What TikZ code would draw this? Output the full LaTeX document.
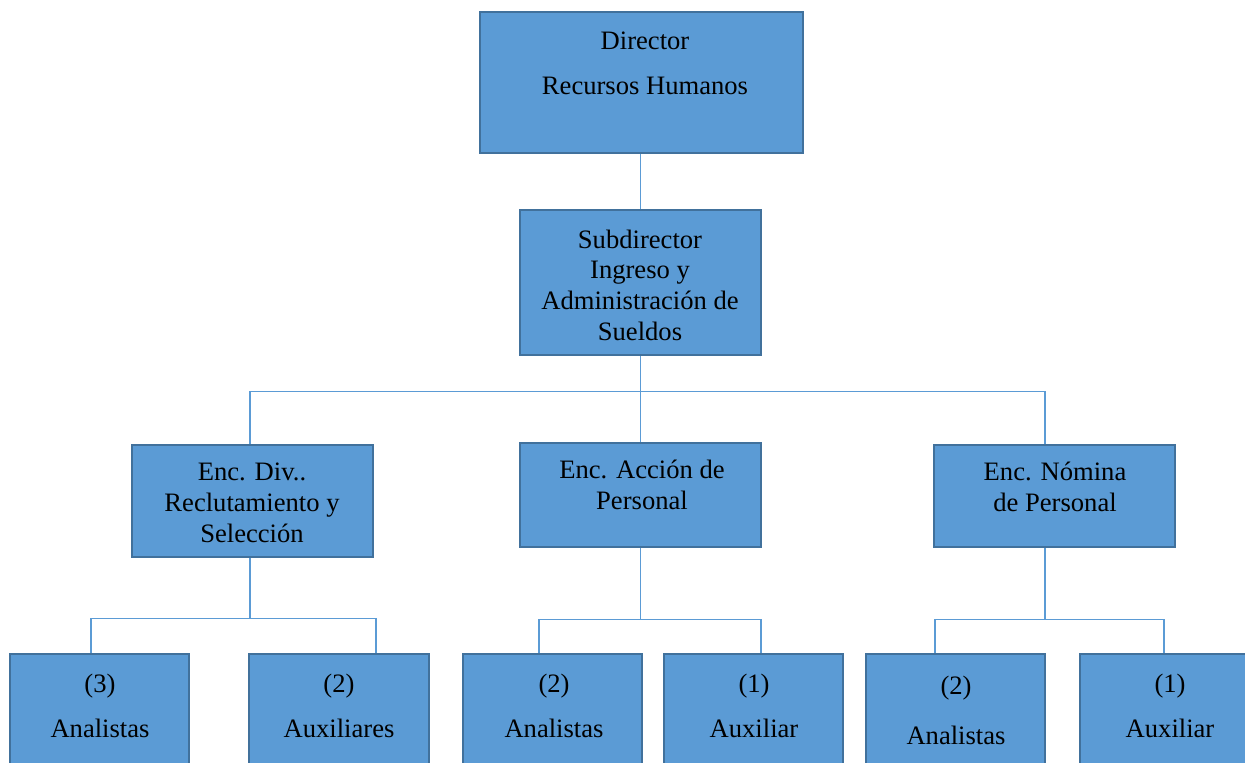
\documentclass[tikz,border=0pt]{standalone}
\usepackage{fontspec}
\setmainfont{Liberation Serif}
\usepackage{tikz}
\usetikzlibrary{positioning, calc}
\definecolor{org-fill}{HTML}{5B9BD5}
\definecolor{org-line}{HTML}{41719C}

\begin{document}
\begin{tikzpicture}[x=0.5pt, y=-0.5pt,
	box/.style={rectangle, draw=org-line, line width=1.25pt, fill=org-fill, inner sep=0pt},
	lbl/.style={align=center, anchor=base, font=\fontsize{13.3}{15.3}\selectfont},
	link/.style={draw=org-fill, line width=0.65pt}]
	\useasboundingbox (0,0) rectangle (1245,762);
	\clip (0,0) rectangle (1245,762);
	% boxes
	\node[box, minimum width=161.5pt, minimum height=70.5pt] (dir) at (641.5,82.5) {};
	\node[box, minimum width=120.5pt, minimum height=72.5pt] (sub) at (640.5,282.5) {};
	\node[box, minimum width=120.5pt, minimum height=56pt] (div) at (252.5,501) {};
	\node[box, minimum width=120.5pt, minimum height=52pt] (acc) at (640.5,495) {};
	\node[box, minimum width=120.5pt, minimum height=51pt] (nom) at (1054.5,496) {};
	\node[box, minimum width=89.5pt, minimum height=63pt] (b1) at (99.5,717) {};
	\node[box, minimum width=90pt, minimum height=63pt] (b2) at (339,717) {};
	\node[box, minimum width=89.5pt, minimum height=63pt] (b3) at (552.5,717) {};
	\node[box, minimum width=89.5pt, minimum height=63pt] (b4) at (753.5,717) {};
	\node[box, minimum width=89.5pt, minimum height=63pt] (b5) at (955.5,717) {};
	\node[box, minimum width=89.5pt, minimum height=63pt] (b6) at (1169.5,717) {};
	% lines
	\draw[link] (sub.north |- dir.south) -- (sub.north);
	\draw[link] (sub.south) -- (acc.north);
	\draw[link] ([xshift=-1.25pt]div.north) -- ++(0,-52) -| ([xshift=-4.75pt]nom.north);
	\draw[link] ([xshift=-1.25pt]div.south) -- ++(0,60) coordinate (divbus);
	\draw[link] ([xshift=-4.25pt]b1.north) |- (divbus) -| ([xshift=18.5pt]b2.north);
	\draw[link] (acc.south) -- ++(0,71) coordinate (accbus);
	\draw[link] ([xshift=-6.75pt]b3.north) |- (accbus) -| ([xshift=3.75pt]b4.north);
	\draw[link] ([xshift=-4.75pt]nom.south) -- ++(0,71) coordinate (nombus);
	\draw[link] ([xshift=-10.25pt]b5.north) |- (nombus) -| ([xshift=-2.75pt]b6.north);
	% texts (anchored at the last line)
	\node[lbl] (dirtxt) at (645,94) {Director\\[7.2pt]Recursos Humanos};
	\node[lbl] (subtxt) at (640,340) {Subdirector\\Ingreso y\\Administración de\\Sueldos};
	\node[lbl] (divtxt) at (252,542) {Enc. Div..\\Reclutamiento y\\Selección};
	\node[lbl] (acctxt) at (642,509) {Enc. Acción de\\Personal};
	\node[lbl] (nomtxt) at (1055,511) {Enc. Nómina\\de Personal};
	\node[lbl] (b1txt) at (100,737) {(3)\\[7.2pt]Analistas};
	\node[lbl] (b2txt) at (339,737) {(2)\\[7.2pt]Auxiliares};
	\node[lbl] (b3txt) at (554,737) {(2)\\[7.2pt]Analistas};
	\node[lbl] (b4txt) at (754,737) {(1)\\[7.2pt]Auxiliar};
	\node[lbl] (b5txt) at (956,744) {(2)\\[9.7pt]Analistas};
	\node[lbl] (b6txt) at (1170,737) {(1)\\[7.2pt]Auxiliar};
\end{tikzpicture}
\end{document}
